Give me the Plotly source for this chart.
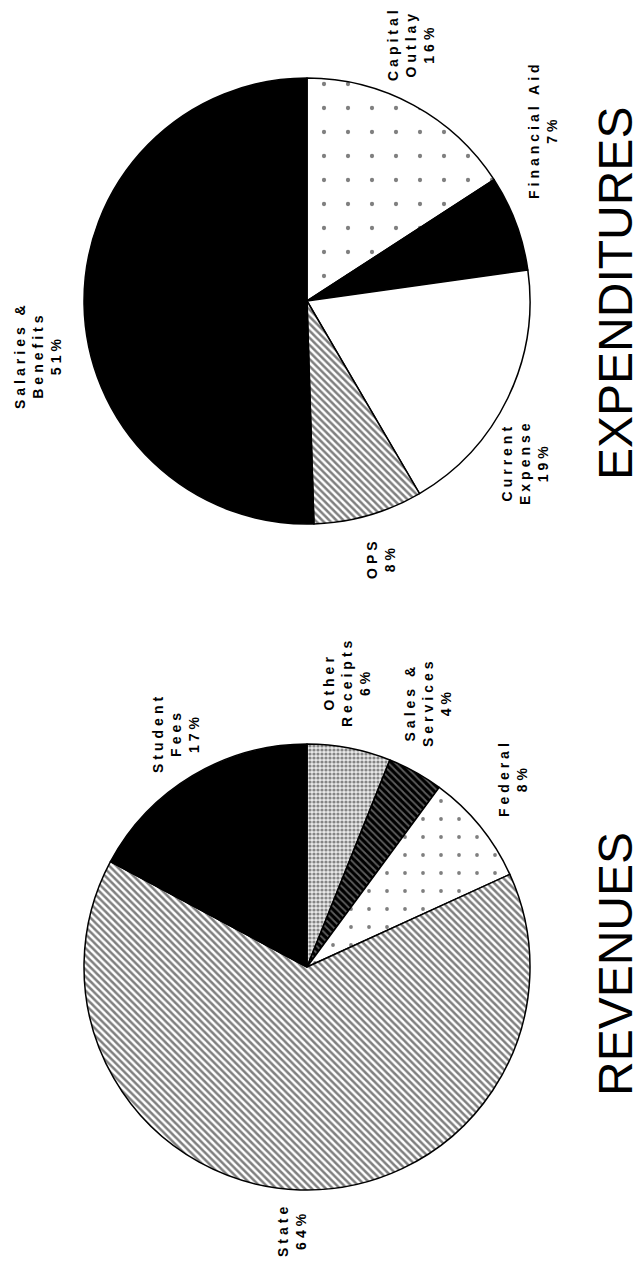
import plotly.graph_objects as go

# ---- data ----
exp_labels = ["Capital Outlay", "Financial Aid", "Current Expense", "OPS", "Salaries & Benefits"]
exp_values = [16, 7, 19, 8, 51]
rev_labels = ["Other Receipts", "Sales & Services", "Federal", "State", "Student Fees"]
rev_values = [6, 4, 8, 64, 17]

# label texts as printed (line-broken)
exp_text = ["Capital<br>Outlay<br>16%", "Financial Aid<br>7%", "Current<br>Expense<br>19%",
            "OPS<br>8%", "Salaries &<br>Benefits<br>51%"]
rev_text = ["Other<br>Receipts<br>6%", "Sales &<br>Services<br>4%", "Federal<br>8%",
            "State<br>64%", "Student<br>Fees<br>17%"]

W, H = 642, 1262

def px(x, y):
    return x / W, 1 - y / H

exp_colors = ["white", "black", "white", "white", "black"]
exp_pat_shape = [".", "", "", "\\", ""]
exp_pat_fg = ["black", "black", "black", "black", "black"]
exp_pat_size = [24, 8, 8, 5, 8]
exp_pat_sol = [0.025, 0.3, 0.3, 0.5, 0.3]

rev_colors = ["#cfcfcf", "black", "white", "white", "black"]
rev_pat_shape = [".", "\\", ".", "\\", ""]
rev_pat_fg = ["#222222", "#bbbbbb", "black", "black", "black"]
rev_pat_bg = ["#e8e8e8", "black", "white", "white", "black"]
rev_pat_size = [4, 5, 18, 5, 8]
rev_pat_sol = [0.5, 0.35, 0.035, 0.5, 0.3]

fig = go.Figure()

cx, r = 307, 223
ecy, rcy = 301, 967

fig.add_trace(go.Pie(
    labels=exp_labels, values=exp_values, sort=False, direction="clockwise", rotation=0,
    textinfo="none", hoverinfo="label+percent", showlegend=False,
    domain=dict(x=[(cx - r) / W, (cx + r) / W], y=[1 - (ecy + r) / H, 1 - (ecy - r) / H]),
    marker=dict(colors=exp_colors, line=dict(color="black", width=1.5),
                pattern=dict(shape=exp_pat_shape, fgcolor=exp_pat_fg, bgcolor=exp_colors,
                             size=exp_pat_size, solidity=exp_pat_sol, fillmode="overlay")),
))

fig.add_trace(go.Pie(
    labels=rev_labels, values=rev_values, sort=False, direction="clockwise", rotation=0,
    textinfo="none", hoverinfo="label+percent", showlegend=False,
    domain=dict(x=[(cx - r) / W, (cx + r) / W], y=[1 - (rcy + r) / H, 1 - (rcy - r) / H]),
    marker=dict(colors=rev_colors, line=dict(color="black", width=1.5),
                pattern=dict(shape=rev_pat_shape, fgcolor=rev_pat_fg, bgcolor=rev_pat_bg,
                             size=rev_pat_size, solidity=rev_pat_sol, fillmode="overlay")),
))

label_font = dict(family="Liberation Sans, Arial, sans-serif", size=14, color="black", weight="bold")
exp_pos = [(411, 44), (543, 130), (525, 462), (381, 558), (38, 355)]
rev_pos = [(347, 682), (428, 702), (513, 778), (292, 1230), (176, 733)]

for t, (x, y) in zip(exp_text, exp_pos):
    ax, ay = px(x, y)
    fig.add_annotation(x=ax, y=ay, xref="paper", yref="paper", text=t, showarrow=False,
                       textangle=-90, font=label_font, align="center",
                       xanchor="center", yanchor="middle")
for t, (x, y) in zip(rev_text, rev_pos):
    ax, ay = px(x, y)
    fig.add_annotation(x=ax, y=ay, xref="paper", yref="paper", text=t, showarrow=False,
                       textangle=-90, font=label_font, align="center",
                       xanchor="center", yanchor="middle")

title_font = dict(family="Liberation Sans, Arial, sans-serif", size=48, color="black")
for t, (x, y) in [("EXPENDITURES", (615, 294)), ("REVENUES", (615, 964))]:
    ax, ay = px(x, y)
    fig.add_annotation(x=ax, y=ay, xref="paper", yref="paper", text=t, showarrow=False,
                       textangle=-90, font=title_font, xanchor="center", yanchor="middle")

fig.update_layout(width=W, height=H, margin=dict(l=0, r=0, t=0, b=0),
                  paper_bgcolor="white", plot_bgcolor="white")

post = (
    "document.body.style.margin='0';document.body.style.overflow='hidden';"
    "document.querySelectorAll('text.annotation-text').forEach(function(e){"
    "if(parseFloat(e.style.fontSize)<30){e.style.letterSpacing='4px';}});"
)
fig.write_html("out.html", post_script=post, config={"displayModeBar": False})
